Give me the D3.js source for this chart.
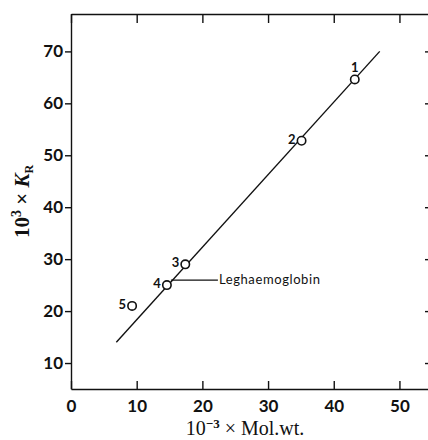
<!DOCTYPE html>
<html>
<head>
<meta charset="utf-8">
<script src="https://cdn.jsdelivr.net/npm/d3@7"></script>
<style>
  html, body { margin: 0; padding: 0; background: #fff; }
  svg { display: block; }
</style>
</head>
<body>
<div id="chart"></div>
<script>
'use strict';

// points (10^-3 x mol.wt., 10^3 x K_R)
const pointIds = ['1', '2', '3', '4', '5'];
const molWt = [43.2, 35.1, 17.4, 14.6, 9.3];
const kR = [64.6, 52.8, 29.0, 25.0, 21.0];

// fitted straight line, its two ends
const lineX = [6.9, 47.0];
const lineY = [14.0, 70.0];

const xTicks = [0, 10, 20, 30, 40, 50];
const yTicks = [10, 20, 30, 40, 50, 60, 70];

const noteText = 'Leghaemoglobin';
const noteIndex = 3;


const width = 428;
const height = 440;
const margin = {top: 14, right: -1, bottom: 51, left: 71};

var svg = d3.select('#chart').append('svg')
    .attr('width', width)
    .attr('height', height);

var x = d3.scaleLinear()
    .domain([0, 54.5])
    .range([margin.left, width - margin.right]);

var y = d3.scaleLinear()
    .domain([5, 77.2])
    .range([height - margin.bottom, margin.top]);

var tickFont = 'Lato, "Open Sans", sans-serif';

function styleAxis(g) {
    g.selectAll('path, line')
        .attr('stroke', '#111')
        .attr('stroke-width', 1.4);
    g.selectAll('text')
        .attr('fill', '#111')
        .attr('font-family', tickFont)
        .attr('font-weight', 700)
        .attr('font-size', 17);
}

// bottom axis, ticks pointing inward
svg.append('g')
    .attr('transform', 'translate(0,' + y.range()[0] + ')')
    .call(d3.axisBottom(x).tickValues(xTicks).tickSizeInner(-8)
        .tickSizeOuter(0).tickPadding(11).tickFormat(d3.format('d')))
    .call(styleAxis);

// top axis, no labels
svg.append('g')
    .attr('transform', 'translate(0,' + y.range()[1] + ')')
    .call(d3.axisTop(x).tickValues(xTicks).tickSizeInner(-9)
        .tickSizeOuter(0).tickFormat(''))
    .call(styleAxis);

// left axis, ticks pointing out
svg.append('g')
    .attr('transform', 'translate(' + x.range()[0] + ',0)')
    .call(d3.axisLeft(y).tickValues(yTicks).tickSizeInner(6)
        .tickSizeOuter(0).tickPadding(2).tickFormat(d3.format('d')))
    .call(styleAxis);

// right axis, cut by the edge of the picture
svg.append('g')
    .attr('transform', 'translate(' + x.range()[1] + ',0)')
    .call(d3.axisRight(y).tickValues(yTicks).tickSizeInner(-4)
        .tickSizeOuter(0).tickFormat(''))
    .call(styleAxis);

// fitted line
svg.append('line')
    .attr('x1', x(lineX[0]))
    .attr('y1', y(lineY[0]))
    .attr('x2', x(lineX[1]))
    .attr('y2', y(lineY[1]))
    .attr('stroke', '#111')
    .attr('stroke-width', 1.4);

var pts = pointIds.map(function(id, i) {
    return {id: id, x: molWt[i], y: kR[i]};
});

// annotation leader for leghaemoglobin
var np = pts[noteIndex];
svg.append('line')
    .attr('x1', x(np.x) + 4)
    .attr('y1', y(np.y) - 5)
    .attr('x2', x(np.x) + 51)
    .attr('y2', y(np.y) - 5)
    .attr('stroke', '#111')
    .attr('stroke-width', 1.1);

svg.append('text')
    .attr('x', x(np.x) + 52)
    .attr('y', y(np.y) - 1)
    .attr('font-family', tickFont)
    .attr('font-size', 13)
    .attr('letter-spacing', 0.6)
    .attr('fill', '#111')
    .text(noteText);

svg.selectAll('circle.pt')
    .data(pts)
    .enter().append('circle')
    .attr('class', 'pt')
    .attr('cx', function(d) { return x(d.x); })
    .attr('cy', function(d) { return y(d.y); })
    .attr('r', 4.2)
    .attr('fill', '#fff')
    .attr('stroke', '#111')
    .attr('stroke-width', 1.6);

// point numbers: first one sits above, the rest to the left
svg.selectAll('text.pt')
    .data(pts)
    .enter().append('text')
    .attr('class', 'pt')
    .attr('x', function(d, i) { return x(d.x) + (i === 0 ? 0 : -6); })
    .attr('y', function(d, i) { return y(d.y) + (i === 0 ? -7 : 3); })
    .attr('text-anchor', function(d, i) { return i === 0 ? 'middle' : 'end'; })
    .attr('font-family', tickFont)
    .attr('font-weight', 700)
    .attr('font-size', 13)
    .attr('fill', '#111')
    .text(function(d) { return d.id; });

// axis titles
var serif = '"Liberation Serif", "DejaVu Serif", serif';

var xt = svg.append('text')
    .attr('x', 245)
    .attr('y', 435)
    .attr('text-anchor', 'middle')
    .attr('font-family', serif)
    .attr('font-size', 20)
    .attr('fill', '#111');
xt.append('tspan').text('10');
xt.append('tspan').attr('font-size', 13).attr('dy', -7).attr('font-weight', 700).text('\u2212' + '3');
xt.append('tspan').attr('dy', 7).text(' \u00d7 Mol.wt.');

var yt = svg.append('text')
    .attr('transform', 'translate(29,' + ((y.range()[0] + y.range()[1]) / 2) + ') rotate(-90)')
    .attr('text-anchor', 'middle')
    .attr('font-family', serif)
    .attr('font-weight', 700)
    .attr('font-size', 21)
    .attr('fill', '#111');
yt.append('tspan').text('10');
yt.append('tspan').attr('font-size', 14).attr('dy', -8).text('3');
yt.append('tspan').attr('dy', 8).text(' \u00d7 ');
yt.append('tspan').attr('font-style', 'italic').text('K');
yt.append('tspan').attr('font-size', 12).attr('dy', 4).text('R');
</script>
</body>
</html>
